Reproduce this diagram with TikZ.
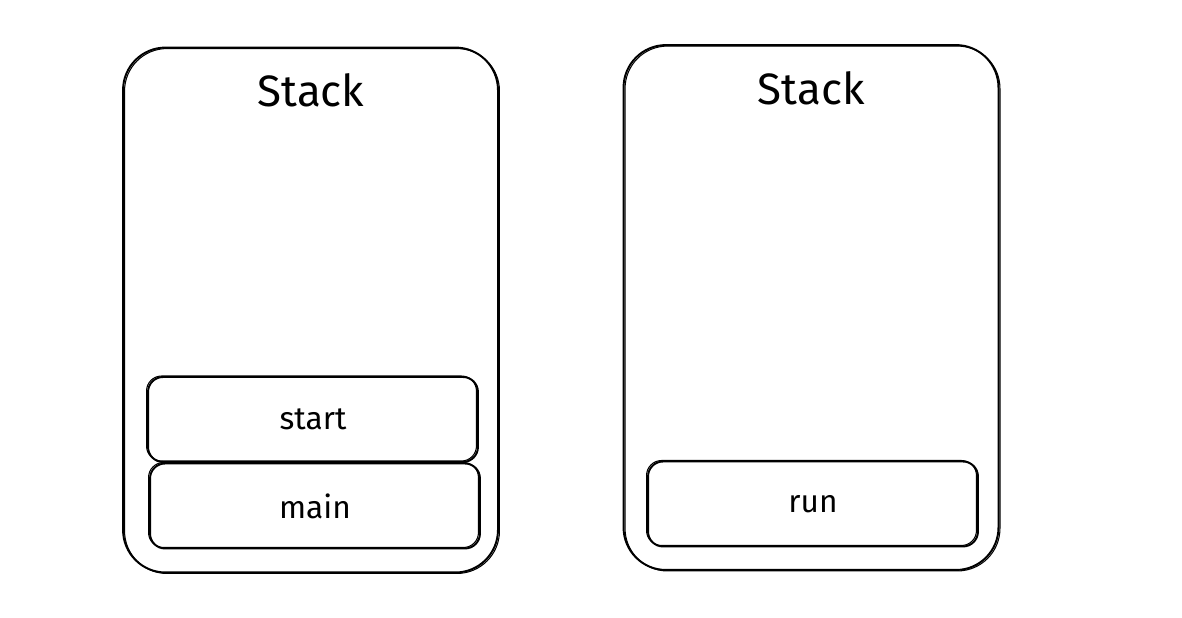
\documentclass[tikz,border=0pt]{standalone}
\usepackage{fontspec}
\setmainfont{Fira Sans}
\usepackage{tikz}
\usetikzlibrary{positioning}

\tikzset{
  stackbox/.style={draw, line width=1.1pt, rounded corners=0.85cm,
    minimum width=7.5cm, minimum height=10.5cm,
    postaction={draw, line width=0.6pt, transform canvas={shift={(0.03cm,-0.02cm)}}}},
  framebox/.style={draw, line width=1.1pt, rounded corners=0.3cm,
    minimum width=6.6cm, minimum height=1.7cm, font=\fontsize{18}{20}\selectfont,
    postaction={draw, line width=0.6pt, transform canvas={shift={(-0.03cm,0.02cm)}}}},
  stacktitle/.style={font=\fontsize{25}{28}\selectfont}
}

\begin{document}
\begin{tikzpicture}[x=0.02cm,y=-0.02cm]
  \useasboundingbox (0,0) rectangle (1182,618);
  % left stack
  \node[stackbox] (stackL) at (310.5,310) {};
  \node[stacktitle] (titleL) at (311,90) {Stack};
  \node[framebox] (start) at (313,419.5) {start};
  \node[framebox] (main) at (315,506) {main};
  % right stack
  \node[stackbox] (stackR) at (811,307.5) {};
  \node[stacktitle] (titleR) at (811,88) {Stack};
  \node[framebox] (run) at (813,504) {run};
\end{tikzpicture}
\end{document}
